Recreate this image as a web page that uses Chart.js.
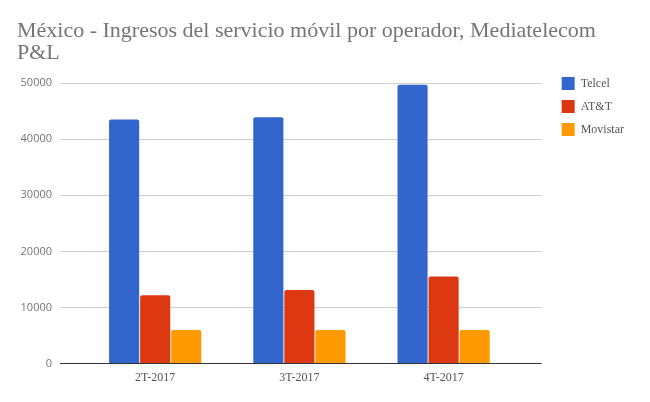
<!DOCTYPE html>
<html lang="es">
<head>
    <meta charset="UTF-8">
    <title>México - Ingresos del servicio móvil por operador</title>
    <script src="https://cdn.jsdelivr.net/npm/chart.js"></script>
    <style>
        html, body { margin: 0; padding: 0; background: #fff; }
        #wrap { width: 650px; height: 402px; }
    </style>
</head>
<body>
    <div id="wrap"><canvas id="ingresosChart"></canvas></div>

    <script>
        // Datos
        const quarters = ['2T-2017', '3T-2017', '4T-2017'];
        const telcel = [43500, 43900, 49700];
        const att = [12200, 13100, 15500];
        const movistar = [6000, 6000, 6000];
        const yTicks = [0, 10000, 20000, 30000, 40000, 50000];

        const serif = '"Liberation Serif", "Times New Roman", serif';

        // cada trimestre en la posición de su índice
        const toPoints = arr => arr.map((y, i) => ({ x: i, y: y }));

        // sube la leyenda para alinearla con la línea de 50000
        const legendShift = {
            id: 'legendShift',
            afterLayout(chart) {
                chart.legend.top = chart.chartArea.top - 16;
            }
        };

        const ctx = document.getElementById('ingresosChart').getContext('2d');
        new Chart(ctx, {
            type: 'bar',
            data: {
                datasets: [{
                    label: 'Telcel',
                    data: toPoints(telcel),
                    backgroundColor: '#3366cc'
                }, {
                    label: 'AT&T',
                    data: toPoints(att),
                    backgroundColor: '#dc3912'
                }, {
                    label: 'Movistar',
                    data: toPoints(movistar),
                    backgroundColor: '#ff9900'
                }]
            },
            plugins: [legendShift],
            options: {
                responsive: true,
                maintainAspectRatio: false,
                animation: false,
                layout: { padding: { left: 17, right: 16, top: 14, bottom: 10 } },
                datasets: {
                    bar: {
                        categoryPercentage: 0.646,
                        barPercentage: 0.97,
                        borderRadius: 2,
                        borderSkipped: 'bottom'
                    }
                },
                plugins: {
                    title: {
                        display: true,
                        text: ['México - Ingresos del servicio móvil por operador, Mediatelecom', 'P&L'],
                        align: 'start',
                        color: '#757575',
                        font: { family: serif, size: 22, weight: 'normal', lineHeight: 1.0 },
                        padding: { top: 6, bottom: 19 }
                    },
                    legend: {
                        position: 'right',
                        align: 'start',
                        fullSize: false,
                        labels: {
                            boxWidth: 13,
                            boxHeight: 13,
                            padding: 10,
                            color: '#555',
                            font: { family: serif, size: 12 }
                        }
                    },
                    tooltip: { enabled: false }
                },
                scales: {
                    x: {
                        type: 'linear',
                        offset: false,
                        bounds: 'data',
                        min: -0.66,
                        max: 2.68,
                        afterBuildTicks: axis => {
                            axis.ticks = quarters.map((q, i) => ({ value: i }));
                        },
                        grid: { display: false, drawTicks: false, offset: false },
                        border: { display: false },
                        ticks: {
                            color: '#555',
                            font: { family: serif, size: 12 },
                            padding: 7,
                            callback: v => quarters[v]
                        }
                    },
                    y: {
                        min: 0,
                        max: 50000,
                        afterBuildTicks: axis => {
                            axis.ticks = yTicks.map(v => ({ value: v }));
                        },
                        afterFit: axis => { axis.width = 43; },
                        grid: {
                            drawTicks: false,
                            color: c => c.tick && c.tick.value === 0 ? '#333' : '#d0d0d0',
                            lineWidth: 1
                        },
                        border: { display: false },
                        ticks: {
                            color: '#757575',
                            font: { family: '"Open Sans", sans-serif', size: 11 },
                            padding: 8,
                            callback: v => String(v)
                        }
                    },
                    // espacio entre el área del gráfico y la leyenda
                    gap: {
                        type: 'linear',
                        position: 'right',
                        grid: { display: false },
                        border: { display: false },
                        ticks: { display: false },
                        afterFit: axis => { axis.width = 10; }
                    }
                }
            }
        });
    </script>
</body>
</html>
